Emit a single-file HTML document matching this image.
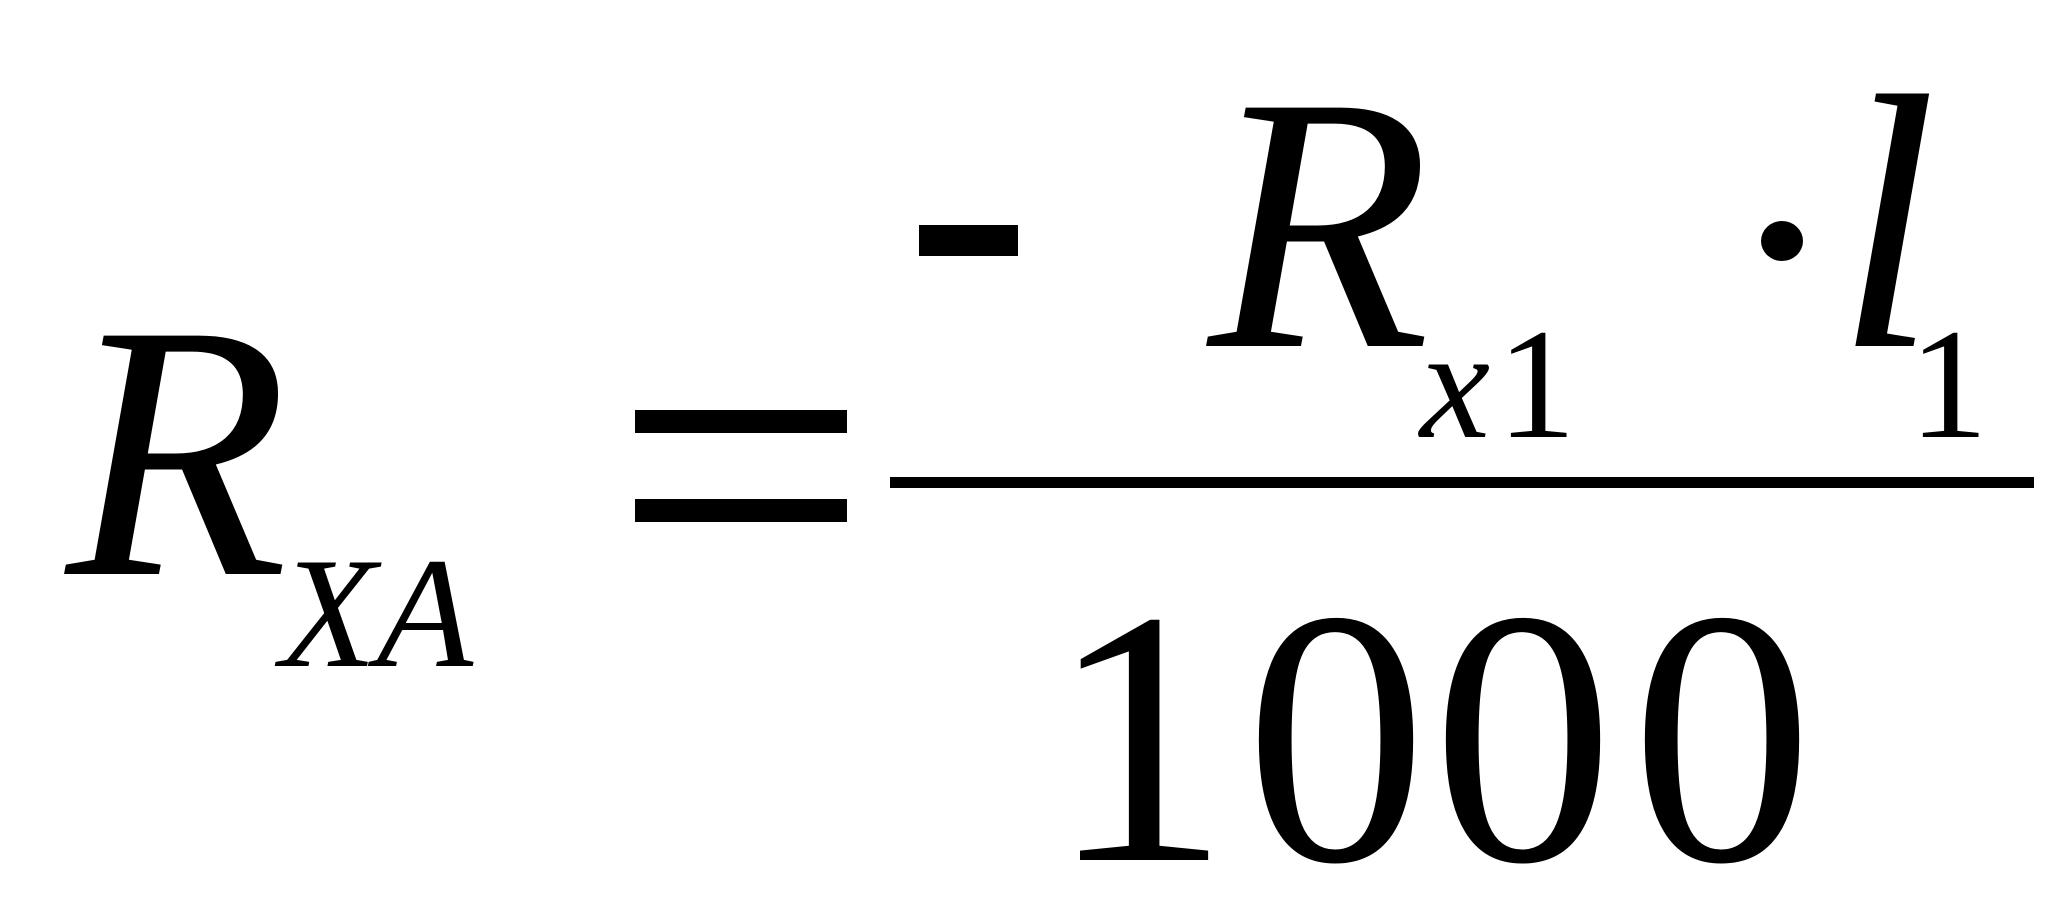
<!DOCTYPE html>
<html><head><meta charset="utf-8"><style>html,body{margin:0;padding:0;background:#fff}svg{display:block}</style></head>
<body>
<svg width="2048" height="920" viewBox="0 0 2048 920" xmlns="http://www.w3.org/2000/svg">
<g font-family="'Liberation Serif', serif" fill="#000">
<text x="66" y="574" font-size="364" font-style="italic">R</text>
<text x="280" y="666" font-size="158" font-style="italic">XA</text>
<rect x="635" y="410" width="212" height="23"/>
<rect x="635" y="499" width="212" height="23"/>
<rect x="919" y="225" width="99" height="31"/>
<text x="1208" y="346" font-size="364" font-style="italic">R</text>
<text x="1420" y="437" font-size="158" font-style="italic">x</text>
<text x="1497" y="437" font-size="158">1</text>
<ellipse cx="1782" cy="241" rx="21" ry="20"/>
<text x="1836" y="346" font-size="364" font-style="italic">l</text>
<text x="1909" y="437" font-size="158">1</text>
<rect x="890" y="477" width="1144" height="11"/>
<text x="1048" y="860" font-size="364">1</text>
<text x="1245" y="860" font-size="364">0</text>
<text x="1432" y="860" font-size="364">0</text>
<text x="1631" y="860" font-size="364">0</text>
</g>
</svg>
</body></html>
